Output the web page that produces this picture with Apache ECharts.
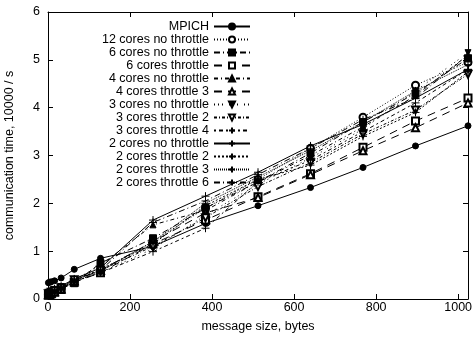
<!DOCTYPE html>
<html><head><meta charset="utf-8">
<script src="https://cdn.jsdelivr.net/npm/echarts@6/dist/echarts.min.js"></script>
<style>html,body{margin:0;padding:0;background:#fff}#c{width:476px;height:339px}</style>
</head><body><div id="c"></div>
<script>
const sizes = [1, 4, 8, 16, 32, 64, 128, 256, 384, 512, 640, 768, 896, 1024];
const xTicks = [0, 200, 400, 600, 800, 1000];
const yTicks = [0, 1, 2, 3, 4, 5, 6];
const names = ["MPICH","12 cores no throttle","6 cores no throttle","6 cores throttle","4 cores no throttle","4 cores throttle 3","3 cores no throttle","3 cores throttle 2","3 cores throttle 4","2 cores no throttle","2 cores throttle 2","2 cores throttle 3","2 cores throttle 6"];
const mpich = [0.34,0.35,0.36,0.38,0.44,0.62,0.85,1.10,1.58,1.95,2.33,2.75,3.20,3.62];
const c12nt = [0.10,0.11,0.13,0.16,0.22,0.38,0.60,1.20,1.90,2.50,3.15,3.80,4.47,4.95];
const c6nt  = [0.12,0.13,0.15,0.19,0.25,0.33,0.75,1.27,1.90,2.45,3.05,3.70,4.30,5.03];
const c6t   = [0.08,0.09,0.11,0.14,0.20,0.35,0.55,1.15,1.65,2.14,2.62,3.17,3.72,4.20];
const c4nt  = [0.14,0.15,0.17,0.20,0.26,0.40,0.70,1.55,1.85,2.45,3.00,3.60,4.25,5.10];
const c4t3  = [0.09,0.10,0.12,0.15,0.21,0.38,0.60,1.20,1.80,2.12,2.60,3.10,3.58,4.10];
const c3nt  = [0.10,0.11,0.13,0.16,0.22,0.36,0.55,1.05,1.75,2.40,2.95,3.55,4.35,5.15];
const c3t2  = [0.11,0.12,0.14,0.17,0.23,0.40,0.60,1.10,1.70,2.35,2.85,3.45,3.95,4.70];
const c3t4  = [0.12,0.13,0.15,0.18,0.24,0.37,0.55,0.99,1.48,2.45,2.90,3.50,4.10,4.80];
const c2nt  = [0.15,0.16,0.18,0.21,0.27,0.42,0.65,1.65,2.15,2.65,3.20,3.65,4.20,4.80];
const c2t2  = [0.13,0.14,0.16,0.19,0.25,0.39,0.62,1.15,1.95,2.50,2.80,3.40,3.90,4.75];
const c2t3  = [0.11,0.12,0.14,0.17,0.23,0.35,0.58,1.20,2.00,2.55,3.10,3.70,4.35,4.90];
const c2t6  = [0.13,0.14,0.16,0.19,0.25,0.40,0.60,1.60,2.05,2.60,3.15,3.75,4.20,5.10];
const allValues = [mpich,c12nt,c6nt,c6t,c4nt,c4t3,c3nt,c3t2,c3t4,c2nt,c2t2,c2t3,c2t6];

const PLUS = 'path://M5,0L5,10M0,5L10,5';
const styles = [
  {sym:'circle', size:6, dash:'solid'},
  {sym:'emptyCircle', size:7, dash:[1,2]},
  {sym:'rect', size:7, dash:[6,3,1,3]},
  {sym:'emptyRect', size:7, dash:[8,6]},
  {sym:'triangle', size:6, dash:[4,3,1,3]},
  {sym:'emptyTriangle', size:7, dash:[8,6]},
  {sym:'triangle', size:6, dash:[1,3,1,3,1,6], rot:180},
  {sym:'emptyTriangle', size:7, dash:[3,2,1,2], rot:180},
  {sym:PLUS, size:8, dash:[2,3,4,3]},
  {sym:PLUS, size:8, dash:'solid'},
  {sym:PLUS, size:8, dash:[2,2]},
  {sym:PLUS, size:8, dash:[1,1]},
  {sym:PLUS, size:8, dash:[6,3,1,3]}
];
const FONT = 'Liberation Sans';
const FS = 12.5;
const series = names.map((n, i) => ({
  name: n, type: 'line', xAxisIndex: 0, yAxisIndex: 0,
  data: sizes.map((s, j) => [s, allValues[i][j]]),
  symbol: styles[i].sym, symbolSize: styles[i].size, symbolRotate: styles[i].rot || 0,
  showAllSymbol: true, animation: false,
  lineStyle: {color:'#000', width:1, type: styles[i].dash},
  itemStyle: {color:'#000', borderColor:'#000', borderWidth:1},
  emphasis: {disabled: true}
}));
const axisCommon = {
  type:'value', min:0,
  axisLine:{show:true, onZero:false, lineStyle:{color:'#000', width:1}},
  axisTick:{show:true, inside:true, length:5, lineStyle:{color:'#000'}},
  splitLine:{show:false}
};
const chart = echarts.init(document.getElementById('c'));
chart.setOption({
  animation: false,
  backgroundColor: '#fff',
  textStyle: {fontFamily: FONT},
  grid: {left:48, right:8, top:12, bottom:40, containLabel:false, outerBoundsMode:'none'},
  legend: {
    orient:'vertical', align:'right', right:225, top:20, padding:0,
    itemWidth:36, itemHeight:7.5, itemGap:0,
    textStyle:{fontFamily:FONT, fontSize:FS, color:'#000', lineHeight:12.5},
    data: names
  },
  xAxis: [
    Object.assign({}, axisCommon, {position:'bottom', max:1024, interval:200,
      name:'message size, bytes', nameLocation:'middle', nameGap:21, nameMoveOverlap:false,
      nameTextStyle:{fontFamily:FONT, fontSize:FS, color:'#000'},
      axisLabel:{color:'#000', fontFamily:FONT, fontSize:FS, margin:2,
        formatter: v => xTicks.includes(v) ? String(v) : ''}}),
    Object.assign({}, axisCommon, {position:'top', max:1024, interval:200, axisLabel:{show:false}})
  ],
  yAxis: [
    Object.assign({}, axisCommon, {position:'left', max:6, interval:1,
      name:'communication time, 10000 / s', nameLocation:'middle', nameGap:32, nameMoveOverlap:false,
      nameTextStyle:{fontFamily:FONT, fontSize:FS, color:'#000'},
      axisLabel:{color:'#000', fontFamily:FONT, fontSize:FS, margin:8,
        formatter: v => yTicks.includes(v) ? String(v) : ''}}),
    Object.assign({}, axisCommon, {position:'right', max:6, interval:1, axisLabel:{show:false}})
  ],
  series: series
});
</script></body></html>
